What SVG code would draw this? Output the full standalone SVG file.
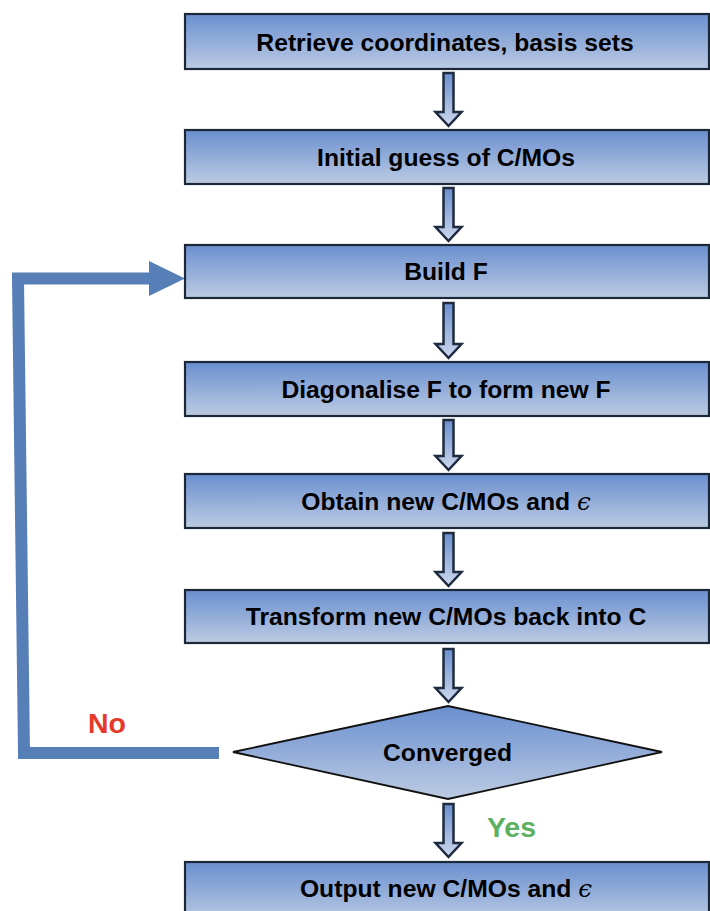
<svg xmlns="http://www.w3.org/2000/svg" width="710" height="911" viewBox="0 0 710 911">
<defs>
<linearGradient id="gBox" x1="0" y1="0" x2="0" y2="1">
<stop offset="0" stop-color="#6a8fcf"/>
<stop offset="1" stop-color="#bccbe3"/>
</linearGradient>
<linearGradient id="gArr" x1="0" y1="0" x2="0" y2="1">
<stop offset="0" stop-color="#6a8fcf"/>
<stop offset="1" stop-color="#cdd8ec"/>
</linearGradient>
</defs>
<style>
.box{fill:url(#gBox);stroke:#1c2838;stroke-width:2.2}
.lbl{font-family:"Liberation Sans",Arial,sans-serif;font-weight:bold;font-size:24.7px;fill:#000;text-anchor:middle}
.eps{font-family:"DejaVu Serif",serif;font-style:italic;font-weight:normal}
.arrow{fill:url(#gArr);stroke:#1e2a3e;stroke-width:2.5;stroke-linejoin:miter}
.loop{fill:none;stroke:#567fb8;stroke-width:12;stroke-linejoin:miter}
</style>
<rect width="710" height="911" fill="#fff"/>
<g id="connectors">
<path class="arrow" d="M443.5,73 H453.5 V112 H461.5 L448.5,126 L435.5,112 H443.5 Z"/>
<path class="arrow" d="M443.5,188 H453.5 V227 H461.5 L448.5,241 L435.5,227 H443.5 Z"/>
<path class="arrow" d="M443.5,303 H453.5 V344 H461.5 L448.5,358 L435.5,344 H443.5 Z"/>
<path class="arrow" d="M443.5,420 H453.5 V456 H461.5 L448.5,470 L435.5,456 H443.5 Z"/>
<path class="arrow" d="M443.5,533 H453.5 V572 H461.5 L448.5,586 L435.5,572 H443.5 Z"/>
<path class="arrow" d="M443.5,649 H453.5 V688 H461.5 L448.5,702 L435.5,688 H443.5 Z"/>
<path class="arrow" d="M443.5,804 H453.5 V843 H461.5 L448.5,857 L435.5,843 H443.5 Z"/>
<path class="loop" d="M219,753 H24 L18,278.5 H152"/>
<polygon points="149,261 185,278.5 149,296" fill="#567fb8"/>
<text x="107" y="733" font-family="Liberation Sans,Arial,sans-serif" font-weight="bold" font-size="28.5" fill="#e5392a" text-anchor="middle">No</text>
<text x="511.5" y="837" font-family="Liberation Sans,Arial,sans-serif" font-weight="bold" font-size="28.5" fill="#5cb160" text-anchor="middle">Yes</text>
</g>
<g id="n1"><rect class="box" x="185" y="14" width="524" height="55"/><text class="lbl" x="445" y="51">Retrieve coordinates, basis sets</text></g>
<g id="n2"><rect class="box" x="185" y="130" width="524" height="54"/><text class="lbl" x="446" y="166">Initial guess of C/MOs</text></g>
<g id="n3"><rect class="box" x="185" y="245" width="524" height="53"/><text class="lbl" x="446" y="280">Build F</text></g>
<g id="n4"><rect class="box" x="185" y="362" width="524" height="54"/><text class="lbl" x="446" y="398">Diagonalise F to form new F</text></g>
<g id="n5"><rect class="box" x="185" y="474" width="524" height="54"/><text class="lbl" x="446" y="510">Obtain new C/MOs and <tspan class="eps">ϵ</tspan></text></g>
<g id="n6"><rect class="box" x="185" y="590" width="524" height="53"/><text class="lbl" x="446" y="625">Transform new C/MOs back into C</text></g>
<g id="n7"><polygon class="box" points="448,706 662,752 448,799 233,752" style="stroke:#111;stroke-width:1.8"/><text class="lbl" x="447.5" y="761">Converged</text></g>
<g id="n8"><rect class="box" x="185" y="862" width="524" height="60"/><text class="lbl" x="446" y="897">Output new C/MOs and <tspan class="eps">ϵ</tspan></text></g>
</svg>
